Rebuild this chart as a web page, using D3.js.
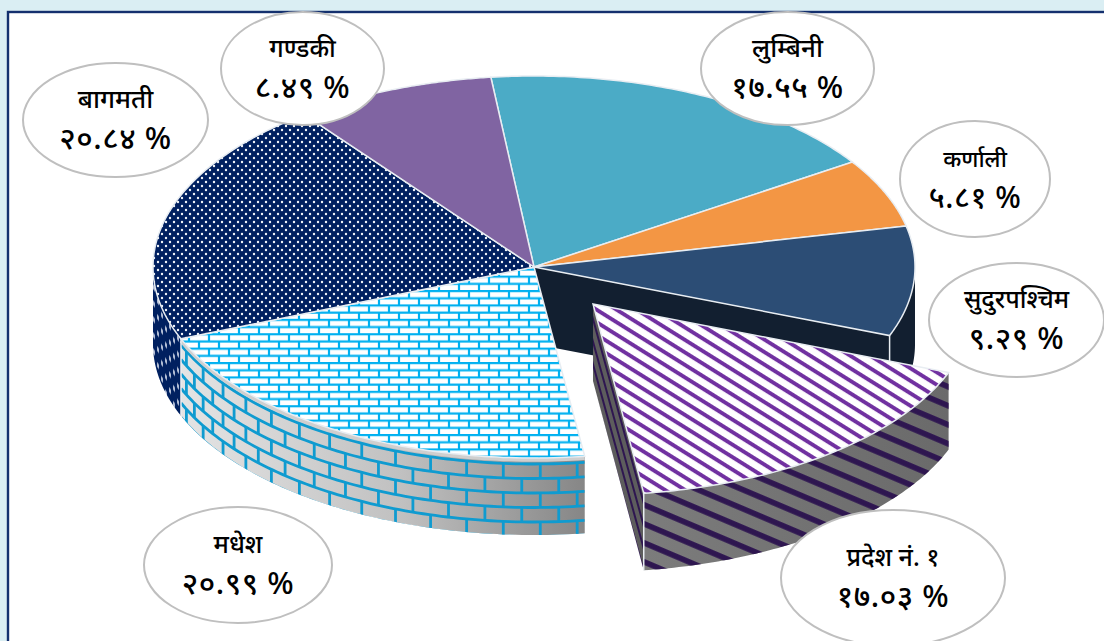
<!DOCTYPE html>
<html>
<head>
<meta charset="utf-8">
<script src="https://cdn.jsdelivr.net/npm/d3@7"></script>
<style>
  html, body { margin: 0; padding: 0; background: #daeef3; overflow: hidden; }
  svg { display: block; }
  text { font-family: "Noto Sans", "Noto Sans Devanagari", "Lohit Devanagari", sans-serif; fill: #000; text-anchor: middle; font-weight: 500; }
</style>
</head>
<body>
<script>
// Data
const provinces = ["लुम्बिनी", "कर्णाली", "सुदुरपश्चिम", "प्रदेश नं. १", "मधेश", "बागमती", "गण्डकी"];
const shares = [17.55, 5.81, 9.29, 17.03, 20.99, 20.84, 8.49];

// Layout of the label bubbles, same order as provinces
const bubbleX = [787.5, 975, 1016.5, 893, 238, 115.5, 302.5];
const bubbleY = [68.5, 179, 320, 578, 565, 120, 68.5];
const bubbleRx = [86.5, 75, 87.5, 112, 94, 92.5, 81.5];
const bubbleRy = [56.5, 58, 57, 68, 58, 57, 56.5];
const nameSize = [26, 23, 25, 25, 25, 26, 25];
const valueSize = [31, 30, 31, 31, 31, 31, 31];

const width = 1104;
const height = 641;
const cx = 534, cy = 267, rx = 381, ry = 191, depth = 77;
const explode = { x: 59, y: 37 };
const startAngle = -6.5 * Math.PI / 180;

const svg = d3.select('body').append('svg')
  .attr('width', width)
  .attr('height', height);

const defs = svg.append('defs');

// Ellipse scales: unit circle to screen
const sx = d3.scaleLinear().domain([-1, 1]).range([cx - rx, cx + rx]);
const sy = d3.scaleLinear().domain([-1, 1]).range([cy - ry, cy + ry]);
const ex = a => sx(Math.sin(a));
const ey = a => sy(-Math.cos(a));

const pie = d3.pie().sort(null).startAngle(startAngle).endAngle(startAngle + 2 * Math.PI);
const arcs = pie(shares);

const line = d3.line();
const arcPoints = (a0, a1, dy = 0) =>
  d3.range(0, 81).map(i => {
    const a = a0 + (a1 - a0) * i / 80;
    return [ex(a), ey(a) + dy];
  });
const topPath = d => line([[cx, cy], ...arcPoints(d.startAngle, d.endAngle)]) + 'Z';
const wallPath = (a0, a1) => line([...arcPoints(a0, a1), ...arcPoints(a1, a0, depth)]) + 'Z';
const cutPath = a => line([[cx, cy], [ex(a), ey(a)], [ex(a), ey(a) + depth], [cx, cy + depth]]) + 'Z';
const edgePath = a => line([[ex(a), ey(a)], [ex(a), ey(a) + depth]]);

// Patterns
const dots = defs.append('pattern').attr('id', 'dots')
  .attr('patternUnits', 'userSpaceOnUse').attr('width', 8).attr('height', 8);
dots.append('rect').attr('width', 8).attr('height', 8).attr('fill', '#002060');
[[2, 2], [6, 6]].forEach(p => dots.append('circle')
  .attr('cx', p[0]).attr('cy', p[1]).attr('r', 1.2).attr('fill', '#f2f5fa'));

const dotsWall = defs.append('pattern').attr('id', 'dotsWall')
  .attr('patternUnits', 'userSpaceOnUse').attr('width', 8).attr('height', 16)
  .attr('patternTransform', 'skewY(55)');
dotsWall.append('rect').attr('width', 8).attr('height', 16).attr('fill', '#002060');
[[2, 4], [6, 12]].forEach(p => dotsWall.append('ellipse')
  .attr('cx', p[0]).attr('cy', p[1]).attr('rx', 0.9).attr('ry', 3).attr('fill', '#b4bfd6'));

const bricks = defs.append('pattern').attr('id', 'bricks')
  .attr('patternUnits', 'userSpaceOnUse').attr('width', 20).attr('height', 14.4)
  .attr('patternTransform', 'translate(4,2)');
bricks.append('rect').attr('width', 20).attr('height', 14.4).attr('fill', '#fff');
bricks.append('path')
  .attr('d', 'M0 1H20M0 8.2H20M5 1V8.2M15 8.2V14.4')
  .attr('stroke', '#00b0f0').attr('stroke-width', 2.2).attr('fill', 'none');

// Stripe patterns are anchored on the slice before it is moved out
const stripes = defs.append('pattern').attr('id', 'stripes')
  .attr('patternUnits', 'userSpaceOnUse').attr('width', 20).attr('height', 10.6)
  .attr('patternTransform', `translate(${cx},${cy}) rotate(32)`);
stripes.append('rect').attr('width', 20).attr('height', 10.6).attr('fill', '#fff');
stripes.append('rect').attr('y', 1).attr('width', 20).attr('height', 3.9).attr('fill', '#7030a0');

const stripesWall = defs.append('pattern').attr('id', 'stripesWall')
  .attr('patternUnits', 'userSpaceOnUse').attr('width', 30).attr('height', 17.5)
  .attr('patternTransform', 'translate(586,463) rotate(23)');
stripesWall.append('rect').attr('y', 2).attr('width', 30).attr('height', 5.6).attr('fill', '#2e1650');

const stripesCut = defs.append('pattern').attr('id', 'stripesCut')
  .attr('patternUnits', 'userSpaceOnUse').attr('width', 6).attr('height', 30)
  .attr('patternTransform', `translate(${cx},${cy}) rotate(-15.4)`);
stripesCut.append('rect').attr('width', 6).attr('height', 30).attr('fill', '#5d5d5d');
stripesCut.append('rect').attr('x', 1).attr('width', 2).attr('height', 30).attr('fill', '#2e1650');

const brickWall = defs.append('linearGradient').attr('id', 'brickWall')
  .attr('gradientUnits', 'userSpaceOnUse')
  .attr('x1', 181).attr('x2', 585).attr('y1', 0).attr('y2', 0);
brickWall.append('stop').attr('offset', 0).attr('stop-color', '#e4e4e4');
brickWall.append('stop').attr('offset', 0.55).attr('stop-color', '#c0c0c0');
brickWall.append('stop').attr('offset', 1).attr('stop-color', '#868686');

const greyWall = defs.append('linearGradient').attr('id', 'greyWall')
  .attr('gradientUnits', 'userSpaceOnUse')
  .attr('x1', 586).attr('x2', 889).attr('y1', 0).attr('y2', 0);
greyWall.append('stop').attr('offset', 0).attr('stop-color', '#7c7c7c');
greyWall.append('stop').attr('offset', 1).attr('stop-color', '#6a6a6a');

// Page frame
svg.append('rect')
  .attr('x', 8).attr('y', 12)
  .attr('width', width).attr('height', height)
  .attr('fill', '#fff')
  .attr('stroke', '#14306e').attr('stroke-width', 2.4);

const g = svg.append('g');
const edge = '#e8edf2';

// Back pieces: dark cut face and outer wall of sudurpaschim
const sudur = arcs[2], pradesh = arcs[3], madhesh = arcs[4];
g.append('path').attr('d', cutPath(sudur.endAngle)).attr('fill', '#121f30');
g.append('path').attr('d', wallPath(Math.PI / 2, sudur.endAngle)).attr('fill', '#121f30');

// Bagmati wall
g.append('path')
  .attr('d', wallPath(madhesh.endAngle, 1.5 * Math.PI))
  .attr('fill', 'url(#dotsWall)');

// Madhesh wall with bricks that follow the curve
g.append('path')
  .attr('d', wallPath(madhesh.startAngle, madhesh.endAngle))
  .attr('fill', 'url(#brickWall)');
defs.append('clipPath').attr('id', 'wallClip')
  .append('path').attr('d', wallPath(madhesh.startAngle, madhesh.endAngle));
const brickLines = g.append('g')
  .attr('clip-path', 'url(#wallClip)')
  .attr('fill', 'none')
  .attr('stroke', '#0f9bd0')
  .attr('stroke-width', 2.8);
const rowGap = 14.5;
d3.range(0, 6).forEach(r => {
  const dy = 6 + r * rowGap;
  brickLines.append('path')
    .attr('d', line(arcPoints(madhesh.startAngle, madhesh.endAngle, dy)));
  const step = 37 / rx;
  const phase = r % 2 ? step / 2 : 0;
  for (let a = madhesh.startAngle + 0.02 + phase; a < madhesh.endAngle; a += step) {
    brickLines.append('path')
      .attr('d', line([[ex(a), ey(a) + dy], [ex(a), ey(a) + dy + rowGap]]));
  }
});
// pale bevel under the top face
g.append('path')
  .attr('d', line(arcPoints(madhesh.startAngle, madhesh.endAngle, 2)))
  .attr('fill', 'none').attr('stroke', '#cfcfcf').attr('stroke-width', 3.5);

// Top faces of the main pie
const topFill = ['#4babc6', '#f39644', '#2c4d75', 'none', 'url(#bricks)', 'url(#dots)', '#8064a2'];
g.selectAll('path.top')
  .data(arcs.filter(d => d.index !== 3))
  .join('path')
  .attr('class', 'top')
  .attr('d', topPath)
  .attr('fill', d => topFill[d.index])
  .attr('stroke', edge)
  .attr('stroke-width', 1.5);

// Edges between walls
[madhesh.endAngle, sudur.endAngle].forEach(a => {
  g.append('path').attr('d', edgePath(a)).attr('stroke', edge).attr('stroke-width', 1.5);
});

// Exploded slice, moved out as one group
const out = g.append('g').attr('transform', `translate(${explode.x},${explode.y})`);
out.append('path').attr('d', cutPath(pradesh.endAngle)).attr('fill', 'url(#stripesCut)');
out.append('path').attr('d', wallPath(pradesh.startAngle, pradesh.endAngle)).attr('fill', 'url(#greyWall)');
out.append('path').attr('d', wallPath(pradesh.startAngle, pradesh.endAngle)).attr('fill', 'url(#stripesWall)');
out.append('path').attr('d', edgePath(pradesh.endAngle)).attr('stroke', edge).attr('stroke-width', 1.5);
out.append('path').attr('d', topPath(pradesh)).attr('fill', 'url(#stripes)').attr('stroke', edge).attr('stroke-width', 1.5);

// Label bubbles
const digits = '०१२३४५६७८९';
const toNepali = v => d3.format('.2f')(v).replace(/\d/g, c => digits[+c]);

const bubble = svg.selectAll('g.bubble')
  .data(provinces)
  .join('g')
  .attr('class', 'bubble')
  .attr('transform', (d, i) => `translate(${bubbleX[i]},${bubbleY[i]})`);

bubble.append('ellipse')
  .attr('rx', (d, i) => bubbleRx[i])
  .attr('ry', (d, i) => bubbleRy[i])
  .attr('fill', '#fff')
  .attr('stroke', '#bfbfbf')
  .attr('stroke-width', 2);

bubble.append('text')
  .attr('y', -12)
  .style('font-size', (d, i) => nameSize[i] + 'px')
  .text(d => d);

bubble.append('text')
  .attr('y', 29)
  .style('font-size', (d, i) => valueSize[i] + 'px')
  .style('letter-spacing', '0.5px')
  .text((d, i) => toNepali(shares[i]) + ' %');
</script>
</body>
</html>
